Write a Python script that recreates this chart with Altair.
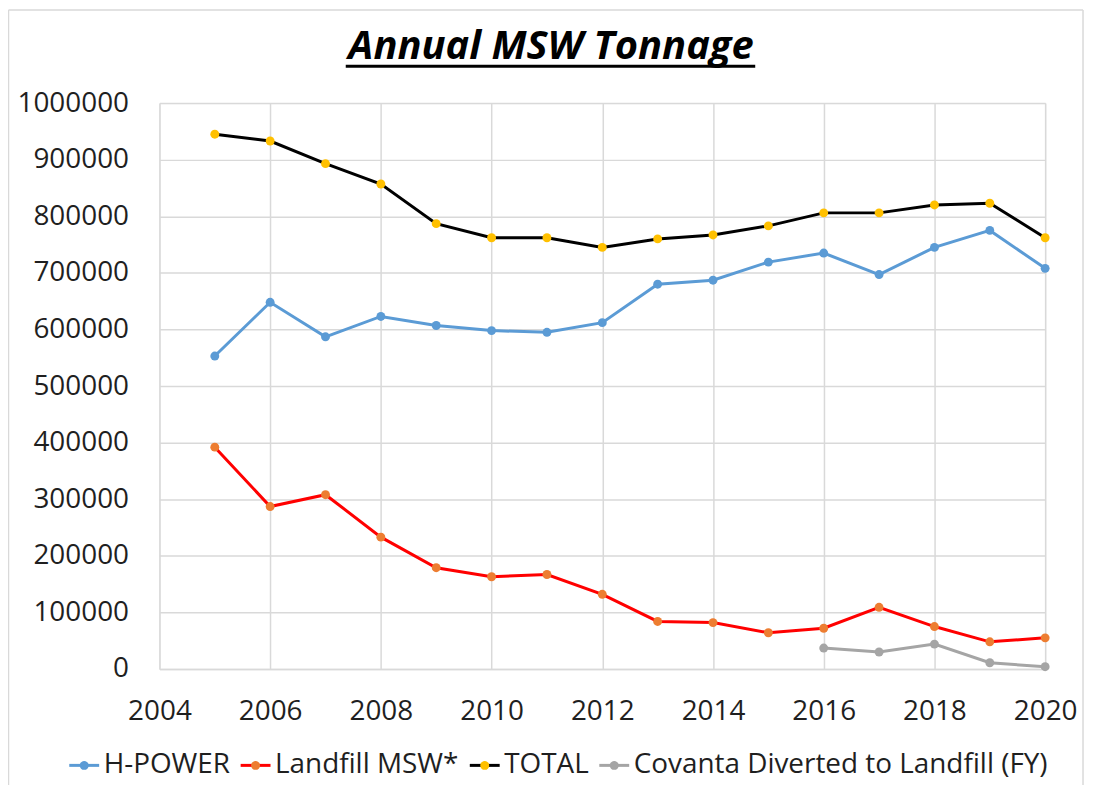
import altair as alt
import pandas as pd

# ---- data ----
years = [2005, 2006, 2007, 2008, 2009, 2010, 2011, 2012, 2013, 2014, 2015, 2016, 2017, 2018, 2019, 2020]
hpower = [553000, 648000, 587000, 623000, 607000, 598000, 595000, 612000, 680000, 687000, 719000, 735000, 697000, 745000, 775000, 708000]
landfill = [392000, 287000, 308000, 233000, 179000, 163000, 167000, 132000, 84000, 82000, 64000, 72000, 109000, 75000, 48000, 55000]
total = [945000, 933000, 893000, 857000, 787000, 762000, 762000, 745000, 760000, 767000, 783000, 806000, 806000, 820000, 823000, 762000]
covanta_years = [2016, 2017, 2018, 2019, 2020]
covanta = [37000, 30000, 44000, 11000, 4000]

series_names = ["H-POWER", "Landfill MSW*", "TOTAL", "Covanta Diverted to Landfill (FY)"]
line_colors = ["#5B9BD5", "#FF0000", "#000000", "#A5A5A5"]
marker_colors = ["#5B9BD5", "#ED7D31", "#FFC000", "#A5A5A5"]
x_ticks = [2004, 2006, 2008, 2010, 2012, 2014, 2016, 2018, 2020]
y_ticks = [0, 100000, 200000, 300000, 400000, 500000, 600000, 700000, 800000, 900000, 1000000]
title_text = "Annual MSW Tonnage"

rows = []
for name, ys, vals in [
    (series_names[0], years, hpower),
    (series_names[1], years, landfill),
    (series_names[2], years, total),
    (series_names[3], covanta_years, covanta),
]:
    for yr, v in zip(ys, vals):
        rows.append({"year": yr, "value": v, "series": name})
df = pd.DataFrame(rows)

FONT = "Open Sans"
TXT = "#1F1F1F"
FS = 28

x_enc = alt.X("year:Q",
              scale=alt.Scale(domain=[2004, 2020], nice=False, zero=False),
              axis=alt.Axis(values=x_ticks, format="d", title=None, ticks=False,
                            domain=True, domainColor="#D9D9D9", domainWidth=1.5,
                            grid=True, gridColor="#D9D9D9", gridWidth=1.5,
                            labelFont=FONT, labelFontSize=FS, labelColor=TXT,
                            labelPadding=29, labelFlush=False))
y_enc = alt.Y("value:Q",
              scale=alt.Scale(domain=[0, 1000000], nice=False),
              axis=alt.Axis(values=y_ticks, format="d", title=None, ticks=False,
                            domain=False, grid=True, gridColor="#D9D9D9", gridWidth=1.5,
                            labelFont=FONT, labelFontSize=FS, labelColor=TXT,
                            labelPadding=31))

# legend symbols: a line (stroke legend) and a centred dot (fill legend) that share the
# same [-1, 1] extent and stroke width so both legends lay out identically and overlap
line_path = "M-1,0L1,0"
dot_path = "M-1,0L1,0M-0.3,0A0.3,0.3,0,1,0,0.3,0A0.3,0.3,0,1,0,-0.3,0Z"

def make_legend(path, label_opacity, z, stroke_color=None):
    kw = dict(title=None, orient="none", direction="horizontal",
              legendX=-92, legendY=648,
              symbolType=path, symbolSize=900,
              symbolStrokeWidth=3, symbolOpacity=1,
              labelFont=FONT, labelFontSize=FS, labelColor=TXT,
              labelOpacity=label_opacity, zindex=z,
              labelOffset=3, columnPadding=4, labelLimit=600)
    if stroke_color is not None:
        kw["symbolStrokeColor"] = stroke_color
    return alt.Legend(**kw)

base = alt.Chart(df)

lines = base.mark_line(strokeWidth=3).encode(
    x=x_enc, y=y_enc,
    stroke=alt.Stroke("series:N",
                      scale=alt.Scale(domain=series_names, range=line_colors),
                      legend=make_legend(line_path, 1, 1)),
    detail="series:N",
    order="year:Q",
)

points = base.mark_point(filled=True, size=80, opacity=1, strokeWidth=0).encode(
    x=x_enc, y=y_enc,
    fill=alt.Fill("series:N",
                  scale=alt.Scale(domain=series_names, range=marker_colors),
                  legend=make_legend(dot_path, 0, 2, "transparent")),
)

one = pd.DataFrame({"title": [title_text]})
title_mark = alt.Chart(one).mark_text(
    font=FONT, fontSize=40, fontWeight="bold", fontStyle="italic", color="#000000",
    align="center", baseline="alphabetic"
).encode(text="title:N", x=alt.value(393), y=alt.value(-44))
underline = alt.Chart(one).mark_rule(color="#000000", strokeWidth=3).encode(
    x=alt.value(187), x2=alt.value(598), y=alt.value(-37)
)
border_top = alt.Chart(one).mark_rule(color="#D9D9D9", strokeWidth=1.5).encode(
    x=alt.value(-151.5), x2=alt.value(927), y=alt.value(-93.5)
)
border_left = alt.Chart(one).mark_rule(color="#D9D9D9", strokeWidth=1.5).encode(
    x=alt.value(-151.5), y=alt.value(-93.5), y2=alt.value(700)
)
border_right = alt.Chart(one).mark_rule(color="#D9D9D9", strokeWidth=1.5).encode(
    x=alt.value(927), y=alt.value(-93.5), y2=alt.value(700)
)

chart = alt.layer(lines, points, title_mark, underline, border_top, border_left, border_right).resolve_legend(
    stroke="independent", fill="independent"
).properties(
    width=889,
    height=568,
    autosize=alt.AutoSizeParams(type="none"),
    padding={"left": 152, "top": 94, "right": 40, "bottom": 115},
).configure_view(stroke=None).configure(background="#FFFFFF")

chart.save("out.html", embed_options={"renderer": "svg", "actions": False})
